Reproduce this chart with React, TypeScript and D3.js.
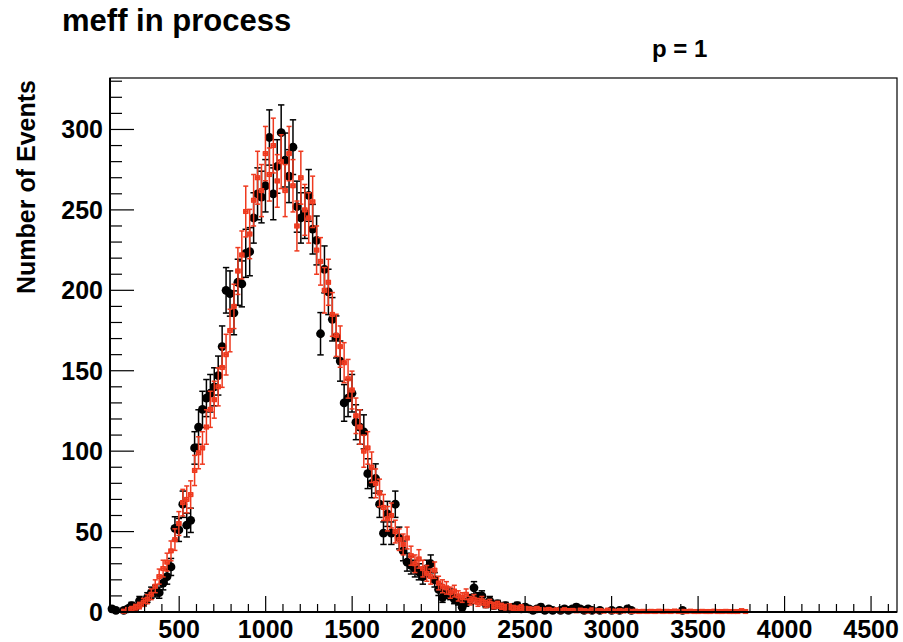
import React from "react";
import * as d3 from "d3";

// ---- Data ----
const BIN_LO = 100;
const BIN_HI = 4650;
const BIN_WIDTH = 22.75;

// black histogram: event counts per bin, starting at BIN_LO
const blackCounts: number[] = [
  2, 1, 0, 1, 2, 4, 3, 7, 6, 9,
  12, 13, 12, 18, 22, 28, 52, 51, 67, 54,
  57, 102, 115, 126, 133, 136, 140, 147, 165, 200,
  198, 186, 205, 204, 223, 224, 245, 260, 258, 265,
  295, 260, 277, 298, 281, 271, 289, 252, 245, 248,
  259, 238, 231, 173, 213, 199, 182, 171, 156, 130,
  133, 136, 118, 115, 112, 86, 80, 83, 67, 49,
  61, 49, 67, 46, 38, 31, 29, 27, 25, 22,
  27, 30, 20, 14, 9, 12, 11, 8, 7, 3,
  6, 8, 15, 9, 10, 5, 7, 4, 5, 3,
  4, 2, 3, 4, 2, 3, 2, 1, 2, 3,
  1, 2, 1, 0, 1, 2, 1, 2, 3, 2,
  1, 2, 1, 0, 1, 0, 0, 1, 0, 1,
  0, 2, 1, 0, 0, 0, 0, 0, 0, 0,
  0, 0, 0, 0, 0, 1,
];

// red histogram: weighted contents per bin, starting at BIN_LO
const redCounts: number[] = [
  0, 0, 0, 0.5, 1.5, 2, 3, 4, 6, 8,
  11, 16, 22, 27, 31, 38, 45, 55, 68, 70,
  73, 88, 99, 102, 115, 126, 132, 140, 152, 160,
  175, 190, 212, 222, 249, 235, 256, 270, 262, 285,
  272, 290, 268, 280, 262, 285, 265, 240, 270, 250,
  245, 255, 225, 218, 200, 205, 185, 172, 165, 155,
  145, 138, 122, 115, 100, 102, 90, 80, 74, 65,
  58, 60, 50, 45, 42, 46, 35, 30, 33, 27,
  24, 22, 26, 18, 16, 15, 12, 13, 10, 9,
  11, 7, 8, 6, 7, 5, 5.5, 4, 4.5, 3.5,
  3, 3.2, 2.5, 2.2, 2.8, 2, 1.8, 1.6, 2, 1.4,
  1.2, 1.5, 1, 1.2, 0.8, 1.3, 0.9, 1, 0.7, 1.1,
  0.8, 0.6, 1.2, 0.7, 0.9, 0.5, 1.1, 0.6, 0.5, 0.8,
  0.6, 1, 0.4, 0.5, 0.3, 0.4, 0.3, 0.4, 0.3, 0.5,
  0.3, 0.4, 0.3, 0.6, 0.3, 0.4, 0.3, 0.5, 0.3, 0.3,
  0.4, 0.3, 0.3, 0.5, 0.3, 0.3, 0.4, 0.3, 0.3, 0.3,
  0.8, 0.3,
];

const xMajorTicks = [500, 1000, 1500, 2000, 2500, 3000, 3500, 4000, 4500];
const yMajorTicks = [0, 50, 100, 150, 200, 250, 300];
const Y_MAX = 332;

const titleText = "meff in process";
const subTitleText = "p = 1";
const yAxisTitle = "Number of Events";

// ---- Layout ----
const W = 903;
const H = 642;
const L = 110;
const R = 897;
const T = 78;
const B = 612;
const FONT = "'Liberation Sans', Arial, Helvetica, sans-serif";
const RED = "#ef3a1f";

export default function App() {
  const x = d3.scaleLinear().domain([BIN_LO, BIN_HI]).range([L, R]);
  const y = d3.scaleLinear().domain([0, Y_MAX]).range([B, T]);

  const center = (i: number) => BIN_LO + BIN_WIDTH * (i + 0.5);

  const xMinor = d3.range(200, 4650, 100).filter((v) => v % 500 !== 0);
  const yMinor = d3.range(10, Y_MAX, 10).filter((v) => v % 50 !== 0);

  const blackPts = blackCounts
    .map((v, i) => ({ v, c: center(i) }))
    .filter((d) => d.v > 0);
  const redPts = redCounts
    .map((v, i) => ({ v, c: center(i) }))
    .filter((d) => d.v > 0);

  const capB = 3.2;
  const capR = 2.5;

  return (
    <svg
      width={W}
      height={H}
      style={{ position: "absolute", left: 0, top: 0, background: "#fff" }}
      fontFamily={FONT}
    >
      <rect x={0} y={0} width={W} height={H} fill="#fff" />
      {/* titles */}
      <text x={62} y={31} fontSize={31} fontWeight="bold" fill="#000">
        {titleText}
      </text>
      <text x={652} y={57} fontSize={24} fontWeight="bold" fill="#000">
        {subTitleText}
      </text>
      <text
        transform={`translate(35,${(T + 296) / 2}) rotate(-90)`}
        textAnchor="middle"
        fontSize={25}
        fontWeight="bold"
        fill="#000"
      >
        {yAxisTitle}
      </text>

      {/* frame */}
      <rect x={L} y={T} width={R - L} height={B - T} fill="none" stroke="#000" strokeWidth={1.2} />

      {/* black series */}
      <g stroke="#000" strokeWidth={1.5} fill="#000">
        {blackPts.map((d, k) => {
          const e = Math.sqrt(d.v);
          const cx = x(d.c);
          const y1 = y(Math.max(0, d.v - e));
          const y2 = y(Math.min(Y_MAX, d.v + e));
          return (
            <g key={k}>
              <line x1={cx} x2={cx} y1={y1} y2={y2} />
              <line x1={cx - capB} x2={cx + capB} y1={y1} y2={y1} />
              <line x1={cx - capB} x2={cx + capB} y1={y2} y2={y2} />
              <circle cx={cx} cy={y(d.v)} r={4.4} stroke="none" />
            </g>
          );
        })}
      </g>

      {/* red series */}
      <g stroke={RED} strokeWidth={1.5} fill="none">
        {redPts.map((d, k) => {
          const e = Math.sqrt(d.v);
          const cx = x(d.c);
          const cy = y(d.v);
          const y1 = y(Math.max(0, d.v - e));
          const y2 = y(Math.min(Y_MAX, d.v + e));
          const xa = x(d.c - BIN_WIDTH / 2);
          const xb = x(d.c + BIN_WIDTH / 2);
          return (
            <g key={k}>
              <line x1={cx} x2={cx} y1={y1} y2={y2} />
              <line x1={cx - capR} x2={cx + capR} y1={y1} y2={y1} />
              <line x1={cx - capR} x2={cx + capR} y1={y2} y2={y2} />
              <line x1={xa} x2={xb} y1={cy} y2={cy} />
              <line x1={xa} x2={xa} y1={cy - 2.2} y2={cy + 2.2} />
              <line x1={xb} x2={xb} y1={cy - 2.2} y2={cy + 2.2} />
              <rect x={cx - 1.8} y={cy - 1.8} width={3.6} height={3.6} />
            </g>
          );
        })}
      </g>

      {/* axes */}
      <line x1={L} x2={L} y1={T} y2={B} stroke="#000" strokeWidth={2} />
      <line x1={L} x2={R} y1={B} y2={B} stroke="#000" strokeWidth={2} />

      {/* ticks */}
      <g stroke="#000" strokeWidth={1.2}>
        {xMajorTicks.map((v) => (
          <line key={"xM" + v} x1={x(v)} x2={x(v)} y1={B} y2={B - 16} />
        ))}
        {xMinor.map((v) => (
          <line key={"xm" + v} x1={x(v)} x2={x(v)} y1={B} y2={B - 8} />
        ))}
        {yMajorTicks.map((v) => (
          <line key={"yM" + v} x1={L} x2={L + 24} y1={y(v)} y2={y(v)} />
        ))}
        {yMinor.map((v) => (
          <line key={"ym" + v} x1={L} x2={L + 12} y1={y(v)} y2={y(v)} />
        ))}
      </g>

      {/* tick labels */}
      <g fontSize={25} fontWeight="bold" fill="#000">
        {xMajorTicks.map((v) => (
          <text key={"xl" + v} x={x(v)} y={638} textAnchor="middle">
            {v}
          </text>
        ))}
        {yMajorTicks.map((v) => (
          <text key={"yl" + v} x={103} y={y(v) + 9} textAnchor="end">
            {v}
          </text>
        ))}
      </g>
    </svg>
  );
}
